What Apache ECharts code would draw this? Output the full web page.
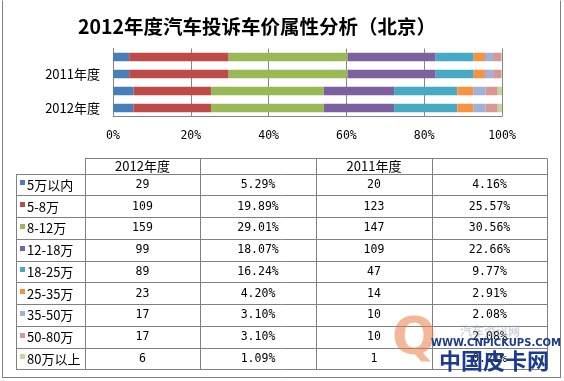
<!DOCTYPE html>
<html>
<head>
<meta charset="utf-8">
<script src="https://cdn.jsdelivr.net/npm/echarts@6/dist/echarts.min.js"></script>
<style>
html,body{margin:0;padding:0;background:#fff;}
#chart{width:564px;height:381px;}
</style>
</head>
<body>
<div id="chart"></div>
<script>
// ---- data ----
const priceRanges = ['5万以内','5-8万','8-12万','12-18万','18-25万','25-35万','35-50万','50-80万','80万以上'];
const count2012 = [29,109,159,99,89,23,17,17,6];
const pct2012 = [5.29,19.89,29.01,18.07,16.24,4.20,3.10,3.10,1.09];
const count2011 = [20,123,147,109,47,14,10,10,1];
const pct2011 = [4.16,25.57,30.56,22.66,9.77,2.91,2.08,2.08,0.21];
const barCategories = ['2012年度','','2011年度',''];
const tableHeaders = ['2012年度','','2011年度',''];
const titleText = '2012年度汽车投诉车价属性分析（北京）';
const colors = ['#4A7EBB','#BE4B48','#98B954','#7D60A0','#46AAC5','#F69240','#9DB1DA','#DA9694','#C3D69B'];

// ---- helpers ----
const sum = a => a.reduce((s, v) => s + v, 0);
const sets = [count2012, pct2012, count2011, pct2011];
const totals = sets.map(sum);

const series = priceRanges.map((name, i) => ({
  name: name,
  type: 'bar',
  stack: 'all',
  barWidth: 8.5,
  itemStyle: { color: colors[i] },
  emphasis: { disabled: true },
  data: sets.map((s, k) => s[i] / totals[k] * 100)
}));

// ---- table graphics ----
const colX = [16, 85, 200, 316, 432, 547];
const headTop = 157.5, rowTop = 173.5, rowH = 21.75;
const nRows = priceRanges.length;
const tBottom = rowTop + nRows * rowH;
const lineStyle = { stroke: '#808080', lineWidth: 1 };
const g = [];
function hline(x1, x2, y) { g.push({ type: 'line', silent: true, shape: { x1, y1: Math.round(y) + 0.5, x2, y2: Math.round(y) + 0.5 }, style: lineStyle }); }
function vline(x, y1, y2) { g.push({ type: 'line', silent: true, shape: { x1: x + 0.5, y1: Math.round(y1) + 0.5, x2: x + 0.5, y2: Math.round(y2) + 0.5 }, style: lineStyle }); }

hline(colX[1], colX[5], headTop);
for (let r = 0; r <= nRows; r++) hline(colX[0], colX[5], rowTop + r * rowH);
vline(colX[0], rowTop, tBottom);
for (let c = 1; c < colX.length; c++) vline(colX[c], headTop, tBottom);

const numFont = '11.5px "DejaVu Sans Mono"';
const cjkFont = '13px "Noto Sans CJK SC"';
for (let c = 0; c < 4; c++) {
  if (tableHeaders[c]) {
    g.push({ type: 'text', silent: true, x: (colX[c + 1] + colX[c + 2]) / 2, y: (headTop + rowTop) / 2 + 0.5,
      style: { text: tableHeaders[c], font: cjkFont, fill: '#000', align: 'center', verticalAlign: 'middle' } });
  }
}
for (let r = 0; r < nRows; r++) {
  const cy = rowTop + r * rowH + rowH / 2;
  g.push({ type: 'rect', silent: true, shape: { x: 20, y: Math.round(cy) - 4, width: 5, height: 5 }, style: { fill: colors[r] } });
  g.push({ type: 'text', silent: true, x: 27, y: cy + 0.5, style: { text: priceRanges[r], font: cjkFont, fill: '#000', align: 'left', verticalAlign: 'middle' } });
  const vals = [String(count2012[r]), pct2012[r].toFixed(2) + '%', String(count2011[r]), pct2011[r].toFixed(2) + '%'];
  vals.forEach((v, c) => {
    g.push({ type: 'text', silent: true, x: (colX[c + 1] + colX[c + 2]) / 2, y: cy + 0.5,
      style: { text: v, font: numFont, fill: '#000', align: 'center', verticalAlign: 'middle' } });
  });
}

// outer frame
vline(2, 0, 377);
vline(560, 0, 377);
hline(2, 561, 377);

// title
g.push({ type: 'text', silent: true, x: 257, y: 27,
  style: { text: titleText, font: 'bold 19.5px "Noto Sans CJK SC"', fill: '#000', align: 'center', verticalAlign: 'middle' } });

// watermark
g.push({ type: 'text', silent: true, x: 414, y: 340, z: 20,
  style: { text: 'Q', font: 'bold 52px "DejaVu Sans"', fill: 'rgba(232,125,70,0.55)', align: 'center', verticalAlign: 'middle' } });
g.push({ type: 'text', silent: true, x: 490, y: 331, z: 20,
  style: { text: '汽车资讯网', font: 'bold 12px "Noto Sans CJK SC"', fill: 'rgba(150,160,180,0.45)', align: 'center', verticalAlign: 'middle' } });
g.push({ type: 'text', silent: true, x: 496, y: 343, z: 20,
  style: { text: 'WWW.CNPICKUPS.COM', font: 'bold 10px "DejaVu Sans"', fill: '#1C3B8C', align: 'center', verticalAlign: 'middle' } });
g.push({ type: 'text', silent: true, x: 494, y: 361, z: 20,
  style: { text: '中国皮卡网', font: 'bold 22px "Noto Sans CJK SC"', fill: '#1C3B8C', align: 'center', verticalAlign: 'middle' } });

const chart = echarts.init(document.getElementById('chart'), null, { renderer: 'canvas' });
chart.setOption({
  animation: false,
  backgroundColor: '#fff',
  color: colors,
  grid: { left: 113, right: 62, top: 48.5, bottom: 264.5, containLabel: false },
  xAxis: {
    type: 'value', min: 0, max: 100, interval: 20,
    axisLine: { show: true, lineStyle: { color: '#868686' } },
    axisTick: { show: false },
    splitLine: { show: true, lineStyle: { color: '#868686', width: 1 } },
    axisLabel: { formatter: '{value}%', margin: 14, color: '#000', fontSize: 11.5, fontFamily: 'DejaVu Sans Mono' }
  },
  yAxis: {
    type: 'category', data: barCategories,
    axisLine: { show: true, lineStyle: { color: '#868686' } },
    axisTick: { show: false },
    axisLabel: { color: '#000', fontSize: 13, fontFamily: 'Noto Sans CJK SC', margin: 13, padding: [5, 0, 0, 0] }
  },
  series: series,
  graphic: g
});
</script>
</body>
</html>
